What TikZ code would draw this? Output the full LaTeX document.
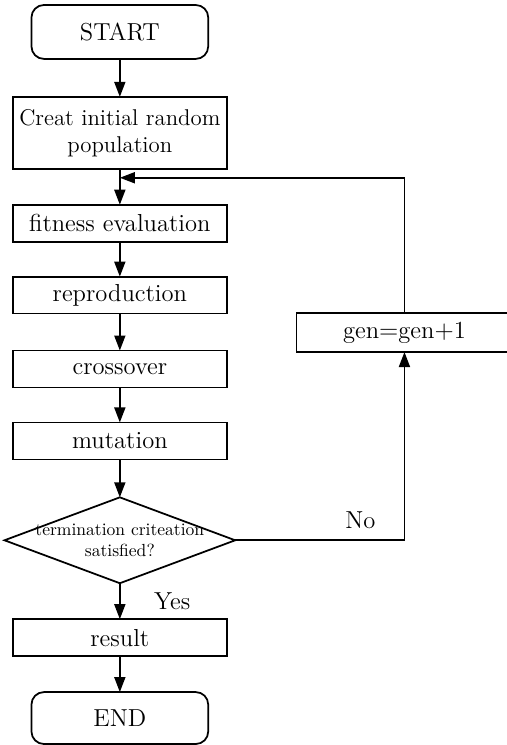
\documentclass[tikz,border=0pt]{standalone}
\usepackage{amsmath}
\usepackage{tikz}
\usetikzlibrary{positioning, shapes.geometric, arrows.meta}
\tikzset{
	terminal/.style = {draw, line width=1pt, outer sep=0, rounded corners=0.25cm, minimum width=3.54cm, minimum height=1.08cm, font=\fontsize{14}{17}\selectfont},
	process/.style = {draw, line width=1pt, outer sep=0, rectangle, minimum width=4.28cm, minimum height=0.74cm, inner sep=0, font=\fontsize{14}{17}\selectfont},
	decision/.style = {draw, line width=1pt, outer sep=0, diamond, aspect=2.68, inner xsep=-20pt, inner ysep=0, minimum width=4.62cm, minimum height=1.72cm, align=center, font=\normalsize},
	arr/.style = {line width=1pt, -{Triangle[length=3mm, width=2.2mm]}},
	lbl/.style = {font=\fontsize{14}{17}\selectfont}
}

\begin{document}
\begin{tikzpicture}[node distance = 7.2mm]
	\useasboundingbox (-2.40,0.64) rectangle (7.74,-14.28);
	
	\node [terminal] (start) {START};
	\node [process, below=7.6mm of start, minimum height=1.44cm, align=center, font=\fontsize{13}{15.5}\selectfont] (init) {Creat initial random\\population};
	\node [process, below=7.2mm of init] (fit) {fitness evaluation};
	\node [process, below=7mm of fit] (rep) {reproduction};
	\node [process, below=7.4mm of rep] (cross) {crossover};
	\node [process, below=7mm of cross] (mut) {mutation};
	\node [decision, below=7.6mm of mut] (dec) {termination criteation\\satisfied?};
	\node [process, below=7.2mm of dec] (res) {result};
	\node [terminal, below=7.2mm of res, minimum height=1.04cm] (stop) {END};
	\node [process, right=1.4cm of rep, yshift=-0.75cm, minimum width=4.32cm, minimum height=0.78cm] (gen) {gen$=$gen$+$1};
	\coordinate [below=1.8mm of init] (join);
	
	\draw [arr] (start) -- (init);
	\draw [arr] (init) -- (fit);
	\draw [arr] (fit) -- (rep);
	\draw [arr] (rep) -- (cross);
	\draw [arr] (cross) -- (mut);
	\draw [arr] (mut) -- (dec);
	\draw [arr] (dec) -- node [lbl, right=5.5mm] {Yes} (res);
	\draw [arr] (res) -- (stop);
	\draw [arr] (dec.east) -| node [lbl, above=1mm, pos=0.37] {No} (gen.south);
	\draw [arr] (gen.north) |- (join);
\end{tikzpicture}
\end{document}
